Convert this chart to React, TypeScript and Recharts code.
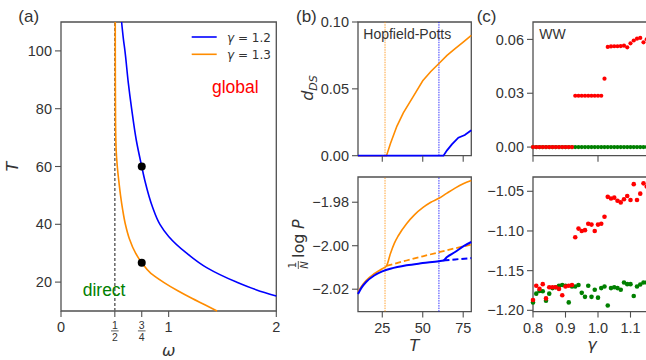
import React from 'react';
import { ComposedChart, Line, Scatter, XAxis, YAxis, ReferenceLine, ReferenceArea } from 'recharts';

const FONT = '"Liberation Sans", Arial, sans-serif';
const MATH = '"DejaVu Sans", sans-serif';
const AXC = '#505050';
const TXC = '#333333';
const BLUE = '#0000ff';
const ORANGE = '#ff8c00';
const RED = '#ff0000';
const GREEN = '#008000';

// ---------- panel (a) ----------
const aOmegaG12 = [0.563, 0.58, 0.594, 0.625, 0.656, 0.7, 0.75, 0.78, 0.85, 0.919, 1.0, 1.167, 1.353, 1.63, 1.817, 2.0];
const aTempG12 = [110, 104, 100, 89, 80, 69, 60, 55, 46, 40, 35.8, 30, 25, 20, 17.3, 15.2];
const aOmegaG13 = [0.504, 0.505, 0.507, 0.512, 0.523, 0.537, 0.553, 0.573, 0.598, 0.635, 0.693, 0.75, 0.835, 0.95, 1.085, 1.215, 1.345, 1.45];
const aTempG13 = [110, 90, 75, 66, 60, 55, 50, 45, 40, 35, 30, 26.7, 23, 20, 17, 14.4, 12, 10];
const aMarkOmega = [0.75, 0.75];
const aMarkTemp = [60, 26.7];
const aXTicks = [0, 0.5, 0.75, 1, 2];
const aXTickLabels = ['0', '1/2', '3/4', '1', '2'];
const aYTicks = [20, 40, 60, 80, 100];
const aLegend = ['1.2', '1.3'];

// ---------- panel (b) ----------
const bTOrangeD = [10, 27.6, 30, 34, 38, 44, 50, 55, 60, 65, 70, 75, 80];
const bDOrange = [0, 0, 0.009, 0.022, 0.032, 0.044, 0.056, 0.063, 0.069, 0.075, 0.08, 0.085, 0.09];
const bTBlueD = [10, 62.8, 65, 68, 72, 76, 80];
const bDBlue = [0, 0, 0.004, 0.0085, 0.0135, 0.0155, 0.019];

const bTOrangeP = [10, 12, 15, 20, 25, 27.6, 30, 32.5, 35, 40, 45, 50, 55, 60, 65, 70, 75, 80];
const bPOrange = [-2.0212, -2.0188, -2.016, -2.0129, -2.0106, -2.0093, -2.0037, -1.9988, -1.9953, -1.9899, -1.9857, -1.9825, -1.98, -1.9782, -1.9758, -1.9735, -1.9715, -1.97];
const bTOrangeDash = [27.6, 40, 50, 60, 70, 80];
const bPOrangeDash = [-2.0093, -2.0068, -2.0049, -2.003, -2.0012, -1.9995];
const bTBlueP = [10, 12, 15, 20, 25, 30, 40, 50, 60, 62.8, 65, 70, 75, 80];
const bPBlue = [-2.0222, -2.0195, -2.0167, -2.0137, -2.0118, -2.0106, -2.009, -2.008, -2.0071, -2.0068, -2.0052, -2.0029, -2.0003, -1.9983];
const bTBlueDash = [62.8, 70, 80];
const bPBlueDash = [-2.0068, -2.0063, -2.0057];
const bTransOrange = 26.7;
const bTransBlue = 60;

// ---------- panel (c) ----------
const cGamma = [0.8, 0.81, 0.82, 0.83, 0.84, 0.85, 0.86, 0.87, 0.88, 0.89, 0.9, 0.91, 0.92, 0.93, 0.94, 0.95, 0.96, 0.97, 0.98, 0.99, 1.0, 1.01, 1.02, 1.03, 1.04, 1.05, 1.06, 1.07, 1.08, 1.09, 1.1, 1.11, 1.12, 1.13, 1.14, 1.15];
const cTopRed = [0, 0, 0, 0, 0, 0, 0, 0, 0, 0, 0, 0, 0, 0.0286, 0.0286, 0.0286, 0.0286, 0.0286, 0.0286, 0.0286, 0.0286, 0.0286, 0.0381, 0.0558, 0.0561, 0.0562, 0.0562, 0.0563, 0.0565, 0.0556, 0.0578, 0.0594, 0.0604, 0.0608, 0.0584, 0.0601];
const cTopGreen = [0, 0, 0, 0, 0, 0, 0, 0, 0, 0, 0, 0, 0, 0, 0, 0, 0, 0, 0, 0, 0, 0, 0, 0, 0, 0, 0, 0, 0, 0, 0, 0, 0, 0, 0, 0];
const cBotRed = [-1.187, -1.169, -1.173, -1.167, -1.185, -1.171, -1.171, -1.171, -1.173, -1.181, -1.17, -1.169, -1.168, -1.108, -1.097, -1.1, -1.099, -1.091, -1.092, -1.1, -1.092, -1.091, -1.082, -1.057, -1.059, -1.058, -1.062, -1.064, -1.06, -1.056, -1.061, -1.041, -1.061, -1.053, -1.04, -1.044];
const cBotGreen = [-1.19, -1.179, -1.1755, -1.176, -1.188, -1.179, -1.172, -1.171, -1.169, -1.168, -1.169, -1.19, -1.17, -1.17, -1.168, -1.178, -1.183, -1.169, -1.183, -1.174, -1.184, -1.172, -1.17, -1.194, -1.172, -1.171, -1.172, -1.174, -1.165, -1.167, -1.167, -1.182, -1.17, -1.1675, -1.165, -1.165];

const zip = (xs: number[], ys: number[]) => xs.map((x, i) => ({ x, y: ys[i] }));

// geometry
const W = 50, H = 40, MT = 10, MR = 6;
const A = [61, 22, 276.3, 311];
const BT = [357.7, 22, 471, 155.7];
const BB = [357.7, 176.7, 471, 311.3];
const CT = [533.3, 22, 663.3, 155.7];
const CB = [533.3, 176.7, 663.3, 311.3];
const pos = (b: number[]) => ({ position: 'absolute' as const, left: b[0] - W, top: b[1] - MT });
const size = (b: number[]) => ({ width: W + (b[2] - b[0]) + MR, height: MT + (b[3] - b[1]) + H, margin: { top: MT, right: MR, left: 0, bottom: 0 } });

const tickStyle = { fill: TXC, fontSize: 14.5, fontFamily: FONT };
const fmt2 = (v: number) => v.toFixed(2).replace('-', '\u2212');
const blank = () => '';

function FracTick(props: any) {
  const { x, y, payload } = props;
  const i = aXTicks.indexOf(payload.value);
  const label = i >= 0 ? aXTickLabels[i] : String(payload.value);
  if (label.includes('/')) {
    const [n, d] = label.split('/');
    return (
      <g>
        <text x={x} y={y + 7.3} textAnchor="middle" fontSize={10.5} fontFamily={FONT} fill={TXC}>{n}</text>
        <line x1={x - 3.8} x2={x + 3.8} y1={y + 8.9} y2={y + 8.9} stroke={TXC} strokeWidth={0.8} />
        <text x={x} y={y + 18.8} textAnchor="middle" fontSize={10.5} fontFamily={FONT} fill={TXC}>{d}</text>
      </g>
    );
  }
  return <text x={x} y={y} dy="0.71em" textAnchor="middle" fontSize={14.5} fontFamily={FONT} fill={TXC}>{label}</text>;
}

const dotShape = (color: string, r: number) => (p: any) => <circle cx={p.cx} cy={p.cy} r={r} fill={color} />;

const axisCommon = {
  axisLine: false,
  tickLine: { stroke: AXC, strokeWidth: 1.1 },
  tickSize: 6,
  tick: tickStyle,
  interval: 0 as const,
};

function Frame({ x1, x2, y1, y2 }: { x1: number; x2: number; y1: number; y2: number }) {
  return <ReferenceArea x1={x1} x2={x2} y1={y1} y2={y2} fill="none" fillOpacity={0} stroke={AXC} strokeWidth={1.3} ifOverflow="visible" />;
}

export default function App() {
  const aBlue = zip(aOmegaG12, aTempG12);
  const aOrange = zip(aOmegaG13, aTempG13);
  const aMarks = zip(aMarkOmega, aMarkTemp);
  const bDO = zip(bTOrangeD, bDOrange);
  const bDB = zip(bTBlueD, bDBlue);
  const bPO = zip(bTOrangeP, bPOrange);
  const bPOd = zip(bTOrangeDash, bPOrangeDash);
  const bPB = zip(bTBlueP, bPBlue);
  const bPBd = zip(bTBlueDash, bPBlueDash);
  const cTR = zip(cGamma, cTopRed);
  const cTG = zip(cGamma, cTopGreen);
  const cBR = zip(cGamma, cBotRed);
  const cBG = zip(cGamma, cBotGreen);

  const bYDomainTop: [number, number] = [0, 0.1];
  const bYDomainBot: [number, number] = [-2.0303, -1.9684];
  const cYDomainTop: [number, number] = [-0.0048, 0.0697];
  const cYDomainBot: [number, number] = [-1.2016, -1.032];

  return (
    <div style={{ position: 'fixed', left: 0, top: 0, width: 646, height: 360, overflow: 'hidden', background: '#fff' }}>
      {/* (a) */}
      <div style={pos(A)}>
        <ComposedChart {...size(A)}>
          <Frame x1={0} x2={2} y1={10} y2={110} />
          <XAxis type="number" dataKey="x" domain={[0, 2]} ticks={aXTicks} height={H} {...axisCommon} tickMargin={5} tick={<FracTick />} />
          <YAxis type="number" dataKey="y" domain={[10, 110]} ticks={aYTicks} width={W} {...axisCommon} tickMargin={3} />
          <ReferenceLine x={0.5} stroke="#666" strokeWidth={1.5} strokeDasharray="3 2" />
          <Line data={aBlue} dataKey="y" type="monotoneY" stroke={BLUE} strokeWidth={1.6} dot={false} isAnimationActive={false} />
          <Line data={aOrange} dataKey="y" type="monotoneY" stroke={ORANGE} strokeWidth={1.6} dot={false} isAnimationActive={false} />
          <Scatter data={aMarks} fill="#000" shape={dotShape('#000', 4)} isAnimationActive={false} />
        </ComposedChart>
      </div>

      {/* (b) top */}
      <div style={pos(BT)}>
        <ComposedChart {...size(BT)}>
          <Frame x1={10} x2={80} y1={0} y2={0.1} />
          <XAxis type="number" dataKey="x" domain={[10, 80]} ticks={[25, 50, 75]} height={H} {...axisCommon} tickMargin={5} tickFormatter={blank} />
          <YAxis type="number" dataKey="y" domain={bYDomainTop} ticks={[0, 0.05, 0.1]} width={W} {...axisCommon} tickMargin={3} tickFormatter={(v: number) => v.toFixed(2)} />
          <ReferenceLine x={bTransOrange} stroke={ORANGE} strokeWidth={0.8} strokeDasharray="1.5 1" />
          <ReferenceLine x={bTransBlue} stroke={BLUE} strokeWidth={0.8} strokeDasharray="1.5 1" />
          <Line data={bDO} dataKey="y" type="linear" stroke={ORANGE} strokeWidth={1.6} dot={false} isAnimationActive={false} />
          <Line data={bDB} dataKey="y" type="linear" stroke={BLUE} strokeWidth={1.8} dot={false} isAnimationActive={false} />
        </ComposedChart>
      </div>

      {/* (b) bottom */}
      <div style={pos(BB)}>
        <ComposedChart {...size(BB)}>
          <Frame x1={10} x2={80} y1={bYDomainBot[0]} y2={bYDomainBot[1]} />
          <XAxis type="number" dataKey="x" domain={[10, 80]} ticks={[25, 50, 75]} height={H} {...axisCommon} tickMargin={5} />
          <YAxis type="number" dataKey="y" domain={bYDomainBot} ticks={[-2.02, -2.0, -1.98]} width={W} {...axisCommon} tickMargin={3} tickFormatter={fmt2} />
          <ReferenceLine x={bTransOrange} stroke={ORANGE} strokeWidth={0.8} strokeDasharray="1.5 1" />
          <ReferenceLine x={bTransBlue} stroke={BLUE} strokeWidth={0.8} strokeDasharray="1.5 1" />
          <Line data={bPO} dataKey="y" type="monotone" stroke={ORANGE} strokeWidth={1.6} dot={false} isAnimationActive={false} />
          <Line data={bPOd} dataKey="y" type="monotone" stroke={ORANGE} strokeWidth={1.8} strokeDasharray="6 3" dot={false} isAnimationActive={false} />
          <Line data={bPB} dataKey="y" type="monotone" stroke={BLUE} strokeWidth={2} dot={false} isAnimationActive={false} />
          <Line data={bPBd} dataKey="y" type="monotone" stroke={BLUE} strokeWidth={2} strokeDasharray="6 3" dot={false} isAnimationActive={false} />
        </ComposedChart>
      </div>

      {/* (c) top */}
      <div style={pos(CT)}>
        <ComposedChart {...size(CT)}>
          <Frame x1={0.8} x2={1.2} y1={cYDomainTop[0]} y2={cYDomainTop[1]} />
          <XAxis type="number" dataKey="x" domain={[0.8, 1.2]} ticks={[0.8, 1.0]} height={H} {...axisCommon} tickMargin={5} tickFormatter={blank} />
          <YAxis type="number" dataKey="y" domain={cYDomainTop} ticks={[0, 0.03, 0.06]} width={W} {...axisCommon} tickMargin={3} tickFormatter={(v: number) => v.toFixed(2)} />
          <Scatter data={cTG} fill={GREEN} shape={dotShape(GREEN, 2.1)} isAnimationActive={false} />
          <Scatter data={cTR} fill={RED} shape={dotShape(RED, 2.1)} isAnimationActive={false} />
        </ComposedChart>
      </div>

      {/* (c) bottom */}
      <div style={pos(CB)}>
        <ComposedChart {...size(CB)}>
          <Frame x1={0.8} x2={1.2} y1={cYDomainBot[0]} y2={cYDomainBot[1]} />
          <XAxis type="number" dataKey="x" domain={[0.8, 1.2]} ticks={[0.8, 0.9, 1.0, 1.1]} height={H} {...axisCommon} tickMargin={5} tickFormatter={(v: number) => v.toFixed(1)} />
          <YAxis type="number" dataKey="y" domain={cYDomainBot} ticks={[-1.2, -1.15, -1.1, -1.05]} width={W} {...axisCommon} tickMargin={3} tickFormatter={fmt2} />
          <Scatter data={cBG} fill={GREEN} shape={dotShape(GREEN, 2.3)} isAnimationActive={false} />
          <Scatter data={cBR} fill={RED} shape={dotShape(RED, 2.3)} isAnimationActive={false} />
        </ComposedChart>
      </div>

      {/* annotations */}
      <svg width={646} height={360} style={{ position: 'absolute', left: 0, top: 0, pointerEvents: 'none' }}>
        <g fontFamily={FONT} fill={TXC}>
          <text x={18.3} y={21.5} fontSize={17}>(a)</text>
          <text x={296} y={21.5} fontSize={17}>(b)</text>
          <text x={476.7} y={22} fontSize={17}>(c)</text>
          <text x={212} y={93} fontSize={17.5} fill={RED}>global</text>
          <text x={82.7} y={295.5} fontSize={17.5} fill={GREEN}>direct</text>
          <text x={363.3} y={38.5} fontSize={14}>Hopfield-Potts</text>
          <text x={539.3} y={38.5} fontSize={14}>WW</text>
        </g>
        {/* legend */}
        <line x1={191.7} x2={216.7} y1={37} y2={37} stroke={BLUE} strokeWidth={1.6} />
        <line x1={191.7} x2={216.7} y1={54.3} y2={54.3} stroke={ORANGE} strokeWidth={1.6} />
        <text x={227} y={41.7} fontSize={12} fontFamily={MATH} fill={TXC}><tspan fontStyle="italic">γ</tspan> = {aLegend[0]}</text>
        <text x={227} y={59.3} fontSize={12} fontFamily={MATH} fill={TXC}><tspan fontStyle="italic">γ</tspan> = {aLegend[1]}</text>
        {/* axis labels */}
        <g fontFamily={MATH} fill={TXC} fontSize={16} fontStyle="italic">
          <text transform="translate(18,166.7) rotate(-90)" textAnchor="middle">T</text>
          <text x={168.7} y={356} textAnchor="middle">ω</text>
          <text x={414.5} y={351} textAnchor="middle">T</text>
          <text x={592} y={350} textAnchor="middle">γ</text>
          <text transform="translate(313,88) rotate(-90)" textAnchor="middle">d<tspan fontSize={11} dy={3.5}>DS</tspan></text>
        </g>
        <g transform="translate(303.5,243) rotate(-90)" fontFamily={MATH} fill={TXC}>
          <text x={-22} y={-7.6} fontSize={10} textAnchor="middle">1</text>
          <line x1={-26} x2={-18} y1={-5.2} y2={-5.2} stroke={TXC} strokeWidth={0.8} />
          <text x={-22} y={4.3} fontSize={10} textAnchor="middle" fontStyle="italic">N</text>
          <text x={-15} y={0} fontSize={16}>log</text>
          <text x={14} y={0} fontSize={16} fontStyle="italic">P</text>
        </g>
      </svg>
    </div>
  );
}
